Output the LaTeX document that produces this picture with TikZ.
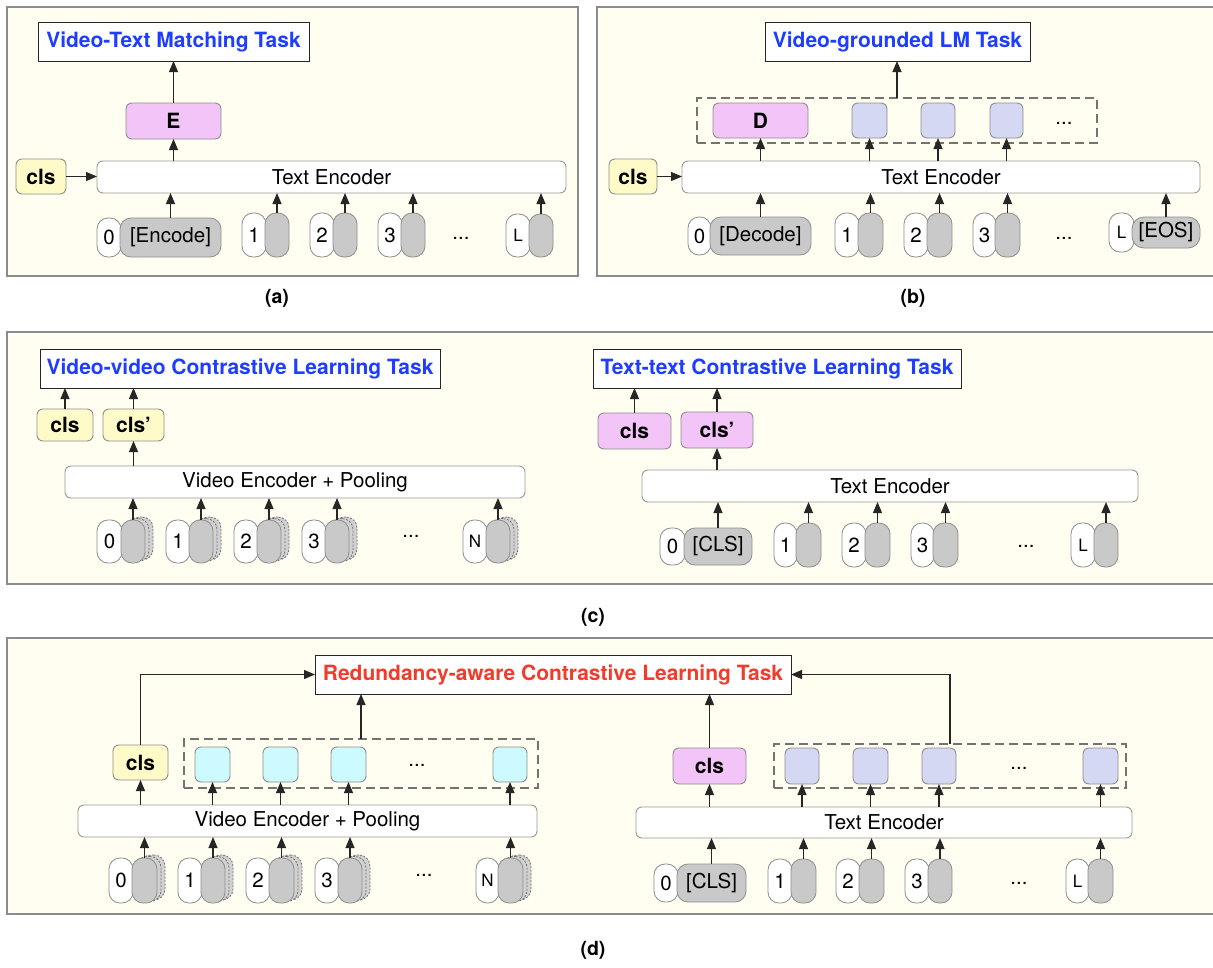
\documentclass[tikz,border=0pt]{standalone}
\usepackage{fontspec}
\setmainfont{TeX Gyre Heros}
\usetikzlibrary{arrows.meta}
\definecolor{cream}{HTML}{FFFEF0}
\definecolor{framegray}{HTML}{8C8C8C}
\definecolor{boxgray}{HTML}{8E8E8E}
\definecolor{yelc}{HTML}{FFFBC8}
\definecolor{pinkc}{HTML}{F3C4F8}
\definecolor{lavc}{HTML}{D4D8F3}
\definecolor{cyanc}{HTML}{CCFAFE}
\definecolor{tokc}{HTML}{C9C9C9}
\definecolor{tblue}{HTML}{1F3DFF}
\definecolor{tred}{HTML}{F03C2A}
\newcommand\fs{\fontsize{20.5pt}{24pt}\selectfont}
\newcommand\fst{\fontsize{21pt}{24pt}\selectfont}
\newcommand\fsl{\fontsize{17pt}{20pt}\selectfont}
\newcommand\bx[7]{\node[#6, minimum width={(#4)-(#2)}, minimum height={(#5)-(#3)}] (#1) at ({((#2)+(#4))/2},{((#3)+(#5))/2}) {#7};}
% text token: name, xn1, xg1, xg2, y1, y2, label
\newcommand\ttok[7]{%
  \bx{#1n}{#2}{#5}{(#3)+1}{#6}{numtok}{#7}%
  \bx{#1g}{#3}{#5}{#4}{#6}{graytok}{}}
% video token: name, xn1, xg1, xg2, y1, y2, label
\newcommand\vtok[7]{%
  \bx{#1n}{#2}{#5}{(#3)+1}{#6}{numtok}{#7}%
  \bx{#1b}{(#3)+8}{(#5)-3}{(#4)+8}{(#6)-3}{backtok}{}%
  \bx{#1a}{(#3)+4}{(#5)-1.5}{(#4)+4}{(#6)-1.5}{backtok}{}%
  \bx{#1g}{#3}{#5}{#4}{#6}{graytok}{}}
\tikzset{
  every node/.style={inner sep=0pt, outer sep=0pt},
  panel/.style={fill=cream, draw=framegray, line width=1.3pt},
  title/.style={draw=black!85, fill=white, line width=1pt, font=\bfseries\fst, text=tblue},
  enc/.style={draw=black!40, fill=white, rounded corners=6pt, line width=0.9pt, font=\fs},
  pinkbox/.style={draw=boxgray, fill=pinkc, rounded corners=6pt, line width=0.9pt, font=\bfseries\fst},
  yelbox/.style={draw=boxgray, fill=yelc, rounded corners=6pt, line width=0.9pt, font=\bfseries\fst},
  lavbox/.style={draw=boxgray, fill=lavc, rounded corners=6pt, line width=0.9pt},
  cyanbox/.style={draw=boxgray, fill=cyanc, rounded corners=6pt, line width=0.9pt},
  dashbox/.style={draw=black!55, line width=1.9pt, dash pattern=on 9pt off 5pt},
  numtok/.style={draw=black!45, fill=white, rounded corners=11pt, line width=0.8pt, font=\fs},
  graytok/.style={draw=boxgray, fill=tokc, rounded corners=11pt, line width=0.8pt, font=\fs},
  backtok/.style={draw=black!55, fill=tokc!85, rounded corners=11pt, line width=0.8pt, dash pattern=on 2pt off 1.5pt},
  arr/.style={-{Triangle[length=11pt,width=9pt]}, line width=1.2pt, draw=black!85},
  dots/.style={font=\fs},
  lab/.style={font=\bfseries\fontsize{19.5pt}{22pt}\selectfont}
}
\begin{document}
\begin{tikzpicture}[x=1pt,y=-1pt]
\useasboundingbox (0,0) rectangle (1213,967);
\fill[white] (0,0) rectangle (1213,967);
% panels
\draw[panel] (7,7) rectangle (578,276);
\draw[panel] (597,7) rectangle (1225,276);
\draw[panel] (7,332) rectangle (1225,584);
\draw[panel] (7,638) rectangle (1225,914);
\node[lab] (la) at (277,298) {(a)};
\node[lab] (lb) at (913,298) {(b)};
\node[lab] (lc) at (593,617) {(c)};
\node[lab] (ld) at (593,950) {(d)};

% ---------------- (a)
\bx{aT}{38}{22}{309}{61}{title}{Video-Text Matching Task}
\bx{aE}{126}{103}{221}{139}{pinkbox}{E}
\bx{acls}{16}{159}{66}{194}{yelbox}{cls}
\bx{aTE}{97}{161}{566}{193}{enc}{Text Encoder}
\ttok{a0}{97}{120}{221}{218}{257}{0}
\node[font=\fs] (a0t) at (a0g) {[Encode]};
\ttok{a1}{242}{265}{289}{213}{257}{1}
\ttok{a2}{310}{333}{357}{213}{257}{2}
\ttok{a3}{378}{401}{425}{213}{257}{3}
\node[dots] (adots) at (461,238) {...};
\ttok{aL}{506}{529}{553}{214}{257}{\fsl L}
\draw[arr] (aE.north) -- (aT.south -| aE.north);
\draw[arr] (aE.south |- aTE.north) -- (aE.south);
\draw[arr] (acls.east) -- (aTE.west |- acls.east);
\foreach \t in {a0g,a1g,a2g,a3g,aLg} \draw[arr] (\t.north) -- (\t.north |- aTE.south);

% ---------------- (b)
\bx{bT}{765}{22}{1030}{61}{title}{Video-grounded LM Task}
\bx{bbox}{697}{98}{1097}{143}{dashbox}{}
\bx{bD}{713}{103}{808}{138}{pinkbox}{D}
\bx{bl1}{852}{103}{887}{138}{lavbox}{}
\bx{bl2}{921}{103}{955}{138}{lavbox}{}
\bx{bl3}{990}{103}{1023}{138}{lavbox}{}
\node[dots] (bdots1) at (1064,123) {...};
\bx{bcls}{609}{159}{657}{194}{yelbox}{cls}
\bx{bTE}{682}{161}{1200}{193}{enc}{Text Encoder}
\ttok{b0}{688}{710}{811}{217}{255}{0}
\node[font=\fs] (b0t) at (b0g) {[Decode]};
\ttok{b1}{835}{858}{883}{213}{257}{1}
\ttok{b2}{904}{927}{952}{213}{257}{2}
\ttok{b3}{973}{995}{1020}{213}{257}{3}
\node[dots] (bdots2) at (1064,238) {...};
\bx{bLn}{1109}{213}{1134}{252}{numtok}{\fsl L}
\bx{bLg}{1132}{217}{1200}{248}{graytok,rounded corners=12pt}{[EOS]}
\draw[arr] (bbox.north) -- (bbox.north |- bT.south);
\draw[arr] (bcls.east) -- (bTE.west |- bcls.east);
\foreach \t in {bD,bl1,bl2,bl3} \draw[arr] (\t.south |- bTE.north) -- (\t.south);
\foreach \t in {b0g,b1g,b2g,b3g,bLg} \draw[arr] (\t.north) -- (\t.north |- bTE.south);

% ---------------- (c) left
\bx{cT1}{40}{349}{440}{388}{title}{Video-video Contrastive Learning Task}
\bx{ccls1}{37}{409}{93}{441}{yelbox}{cls}
\bx{ccls2}{103}{409}{164}{441}{yelbox}{cls’}
\bx{cVE}{65}{466}{525}{498}{enc}{Video Encoder + Pooling}
\vtok{c0}{97}{121}{145}{520}{563}{0}
\vtok{c1}{166}{189}{213}{520}{563}{1}
\vtok{c2}{234}{257}{281}{520}{563}{2}
\vtok{c3}{302}{325}{349}{520}{563}{3}
\node[dots] (cdots1) at (411,536) {...};
\vtok{cN}{463}{486}{510}{520}{563}{\fsl N}
\foreach \t in {ccls1,ccls2} \draw[arr] (\t.north) -- (\t.north |- cT1.south);
\draw[arr] (ccls2.south |- cVE.north) -- (ccls2.south);
\foreach \t in {c0g,c1g,c2g,c3g,cNg} \draw[arr] (\t.north) -- (\t.north |- cVE.south);

% ---------------- (c) right
\bx{cT2}{593}{349}{961}{388}{title}{Text-text Contrastive Learning Task}
\bx{ccls3}{598}{413}{671}{449}{pinkbox}{cls}
\bx{ccls4}{681}{412}{753}{448}{pinkbox}{cls’}
\bx{cTE}{642}{470}{1138}{502}{enc}{Text Encoder}
\ttok{t0}{660}{684}{752}{528}{565}{0}
\node[font=\fs] (t0t) at (t0g) {[CLS]};
\ttok{t1}{774}{796}{821}{523}{567}{1}
\ttok{t2}{842}{865}{890}{523}{567}{2}
\ttok{t3}{911}{933}{958}{523}{567}{3}
\node[dots] (cdots2) at (1026,546) {...};
\ttok{tL}{1071}{1094}{1118}{523}{567}{\fsl L}
\foreach \t in {ccls3,ccls4} \draw[arr] (\t.north) -- (\t.north |- cT2.south);
\draw[arr] (ccls4.south |- cTE.north) -- (ccls4.south);
\foreach \t in {t0g,t1g,t2g,t3g,tLg} \draw[arr] (\t.north) -- (\t.north |- cTE.south);

% ---------------- (d)
\bx{dT}{315}{655}{791}{694}{title,text=tred}{Redundancy-aware Contrastive Learning Task}
% left
\bx{dcls1}{113}{745}{168}{780}{yelbox}{cls}
\bx{dbox1}{184}{739}{538}{788}{dashbox}{}
\bx{dc1}{195}{747}{230}{782}{cyanbox}{}
\bx{dc2}{263}{747}{298}{782}{cyanbox}{}
\bx{dc3}{331}{747}{366}{782}{cyanbox}{}
\bx{dc4}{493}{747}{527}{782}{cyanbox}{}
\node[dots] (ddots1) at (417,765) {...};
\coordinate (dL) at (361,739);
\bx{dVE}{78}{805}{537}{837}{enc}{Video Encoder + Pooling}
\vtok{d0}{109}{132}{157}{858}{903}{0}
\vtok{d1}{178}{201}{225}{858}{903}{1}
\vtok{d2}{246}{269}{294}{858}{903}{2}
\vtok{d3}{315}{338}{362}{858}{903}{3}
\node[dots] (ddots2) at (424,875) {...};
\vtok{dN}{476}{498}{523}{858}{903}{\fsl N}
\draw[arr] (dcls1.north) |- (dT.west);
\draw[arr] (dL) -- (dL |- dT.south);
\foreach \t in {dcls1,dc1,dc2,dc3,dc4} \draw[arr] (\t.south |- dVE.north) -- (\t.south);
\foreach \t in {d0g,d1g,d2g,d3g,dNg} \draw[arr] (\t.north) -- (\t.north |- dVE.south);
% right
\bx{dcls2}{673}{748}{746}{784}{pinkbox}{cls}
\bx{dbox2}{774}{744}{1126}{788}{dashbox}{}
\bx{dl1}{785}{748}{819}{784}{lavbox}{}
\bx{dl2}{853}{748}{888}{784}{lavbox}{}
\bx{dl3}{922}{748}{956}{784}{lavbox}{}
\bx{dl4}{1083}{748}{1118}{784}{lavbox}{}
\node[dots] (ddots3) at (1019,768) {...};
\coordinate (dR) at (950,744);
\bx{dTE}{636}{807}{1132}{838}{enc}{Text Encoder}
\ttok{e0}{654}{677}{746}{864}{902}{0}
\node[font=\fs] (e0t) at (e0g) {[CLS]};
\ttok{e1}{768}{791}{816}{859}{903}{1}
\ttok{e2}{836}{859}{884}{859}{903}{2}
\ttok{e3}{905}{928}{952}{859}{903}{3}
\node[dots] (ddots4) at (1019,883) {...};
\ttok{eL}{1066}{1088}{1113}{859}{903}{\fsl L}
\draw[arr] (dR) |- (dT.east);
\draw[arr] (dcls2.north) -- (dcls2.north |- dT.south);
\foreach \t in {dcls2,dl1,dl2,dl3,dl4} \draw[arr] (\t.south |- dTE.north) -- (\t.south);
\foreach \t in {e0g,e1g,e2g,e3g,eLg} \draw[arr] (\t.north) -- (\t.north |- dTE.south);
\end{tikzpicture}
\end{document}
